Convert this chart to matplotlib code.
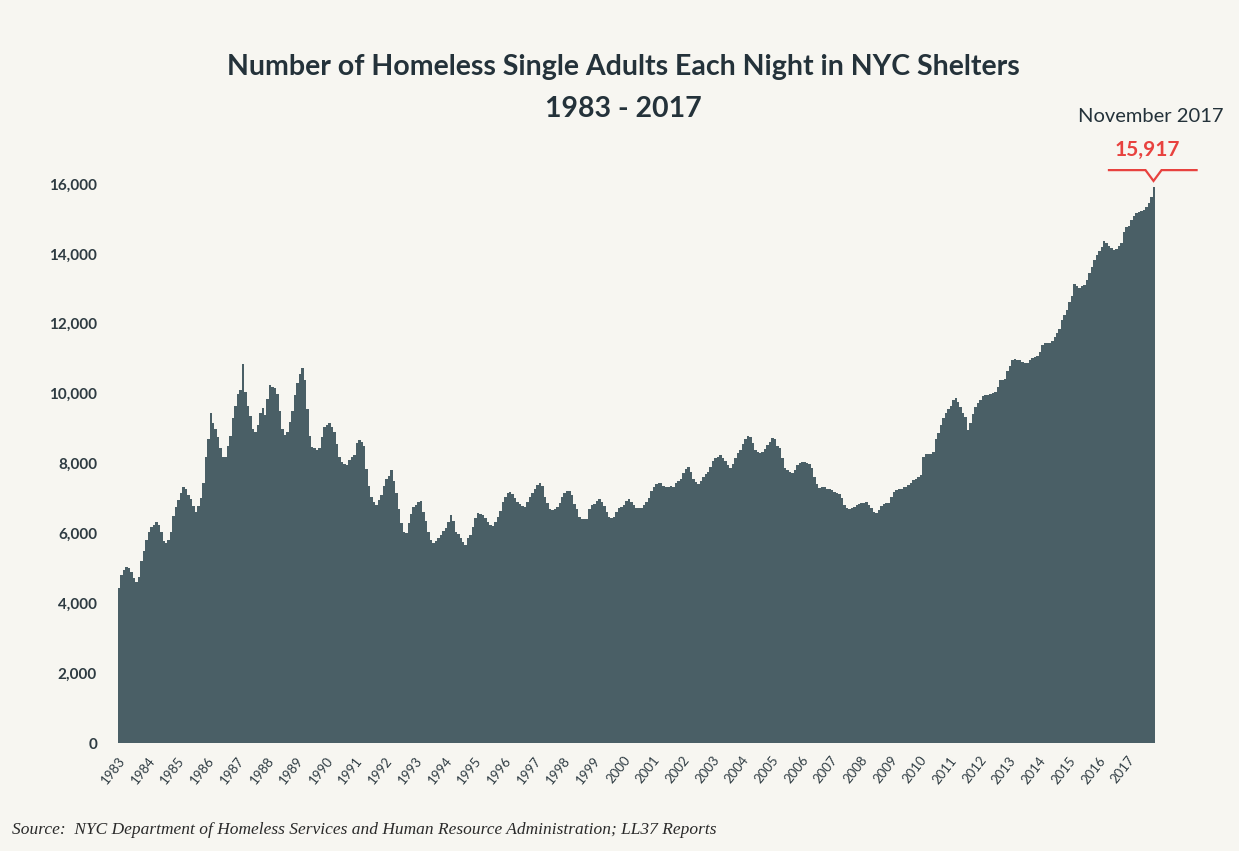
import numpy as np
import matplotlib
matplotlib.use("Agg")
from matplotlib import pyplot as plt

# monthly shelter census, Jan 1983 - Nov 2017
y1983 = [4450, 4800, 4950, 5050, 5000, 4900, 4720, 4620, 4750, 5200, 5500, 5800]
y1984 = [6050, 6180, 6250, 6320, 6250, 6050, 5780, 5720, 5800, 6050, 6500, 6750]
y1985 = [6950, 7150, 7330, 7280, 7100, 6980, 6780, 6620, 6780, 7000, 7450, 8200]
y1986 = [8700, 9450, 9150, 9000, 8750, 8450, 8180, 8200, 8500, 8800, 9300, 9650]
y1987 = [10000, 10100, 10850, 10050, 9650, 9350, 8980, 8900, 9100, 9450, 9600, 9400]
y1988 = [9850, 10250, 10200, 10150, 10000, 9500, 9000, 8820, 8900, 9200, 9500, 9950]
y1989 = [10300, 10550, 10720, 10400, 9550, 8800, 8480, 8440, 8400, 8450, 8750, 9050]
y1990 = [9100, 9170, 9050, 8900, 8550, 8200, 8030, 7980, 7960, 8100, 8200, 8240]
y1991 = [8580, 8680, 8620, 8500, 7850, 7350, 7050, 6900, 6820, 6950, 7100, 7350]
y1992 = [7550, 7650, 7800, 7500, 7150, 6700, 6300, 6050, 6020, 6300, 6550, 6750]
y1993 = [6800, 6900, 6920, 6600, 6350, 6050, 5820, 5730, 5780, 5860, 5960, 6080]
y1994 = [6150, 6320, 6520, 6350, 6050, 5980, 5880, 5740, 5680, 5880, 5950, 6180]
y1995 = [6450, 6580, 6560, 6520, 6440, 6320, 6250, 6220, 6320, 6460, 6650, 6900]
y1996 = [7050, 7150, 7190, 7120, 7000, 6900, 6840, 6780, 6750, 6900, 7050, 7150]
y1997 = [7280, 7380, 7440, 7360, 7050, 6880, 6700, 6680, 6700, 6750, 6880, 7050]
y1998 = [7150, 7210, 7200, 7100, 6850, 6700, 6480, 6420, 6410, 6420, 6700, 6800]
y1999 = [6850, 6920, 6980, 6900, 6780, 6600, 6470, 6440, 6480, 6620, 6720, 6760]
y2000 = [6810, 6940, 6980, 6900, 6800, 6740, 6720, 6730, 6800, 6900, 7020, 7200]
y2001 = [7320, 7400, 7430, 7440, 7350, 7320, 7320, 7360, 7330, 7440, 7500, 7550]
y2002 = [7720, 7830, 7900, 7750, 7560, 7460, 7410, 7500, 7620, 7700, 7760, 7900]
y2003 = [8080, 8160, 8200, 8240, 8160, 8080, 7960, 7880, 7980, 8150, 8300, 8400]
y2004 = [8550, 8700, 8790, 8760, 8600, 8400, 8320, 8300, 8330, 8420, 8530, 8620]
y2005 = [8730, 8700, 8500, 8450, 8160, 7880, 7800, 7760, 7720, 7800, 7950, 8010]
y2006 = [8030, 8050, 8010, 7980, 7880, 7600, 7420, 7310, 7320, 7330, 7280, 7260]
y2007 = [7230, 7180, 7150, 7120, 7000, 6800, 6720, 6700, 6720, 6750, 6810, 6830]
y2008 = [6860, 6880, 6900, 6820, 6720, 6610, 6580, 6680, 6780, 6850, 6870, 6880]
y2009 = [7050, 7180, 7250, 7270, 7280, 7320, 7330, 7380, 7440, 7520, 7560, 7620]
y2010 = [7680, 8180, 8260, 8270, 8280, 8330, 8700, 8880, 9100, 9300, 9440, 9560]
y2011 = [9650, 9820, 9880, 9750, 9620, 9450, 9330, 8950, 9150, 9420, 9620, 9720]
y2012 = [9820, 9930, 9960, 9970, 9990, 10010, 10060, 10180, 10380, 10400, 10430, 10650]
y2013 = [10780, 10960, 10990, 10970, 10950, 10910, 10880, 10870, 10950, 11020, 11050, 11080]
y2014 = [11200, 11380, 11440, 11450, 11460, 11500, 11620, 11730, 11850, 12100, 12250, 12400]
y2015 = [12620, 12800, 13140, 13080, 13020, 13080, 13120, 13260, 13450, 13620, 13820, 13970]
y2016 = [14080, 14200, 14370, 14300, 14220, 14170, 14110, 14150, 14220, 14320, 14620, 14770]
y2017 = [14800, 14970, 15080, 15170, 15200, 15230, 15250, 15350, 15450, 15620, 15917]

years = list(range(1983, 2018))
yticks = [0, 2000, 4000, 6000, 8000, 10000, 12000, 14000, 16000]

counts = np.array(y1983 + y1984 + y1985 + y1986 + y1987 + y1988 + y1989 + y1990
                  + y1991 + y1992 + y1993 + y1994 + y1995 + y1996 + y1997 + y1998
                  + y1999 + y2000 + y2001 + y2002 + y2003 + y2004 + y2005 + y2006
                  + y2007 + y2008 + y2009 + y2010 + y2011 + y2012 + y2013 + y2014
                  + y2015 + y2016 + y2017)
edges = 1983 + np.arange(len(counts) + 1) / 12.0

bg = "#F7F6F1"
fill = "#4A5F66"
dark = "#24323A"
red = "#E8423F"

fig = plt.figure(figsize=(12.39, 8.51), dpi=100, facecolor=bg)
ax = fig.add_axes([0.0952, 0.1269, 0.8370, 0.6569])
ax.set_facecolor(bg)

ax.stairs(counts, edges, fill=True, color=fill, baseline=0, linewidth=0)

ax.set_xlim(edges[0], edges[-1])
ax.set_ylim(0, 16000)
for s in ax.spines.values():
    s.set_visible(False)

ax.set_yticks(yticks)
ax.set_yticklabels([f"{v:,}" for v in yticks], fontfamily="Lato", fontweight="bold",
                   fontsize=11, color="#2E3B42")
ax.set_xticks(years)
ax.set_xticklabels([str(y) for y in years], rotation=52, ha="right", va="top",
                   rotation_mode="anchor", fontfamily="Lato", fontsize=9.5,
                   color="#2E3B42")
ax.tick_params(axis="both", length=0)
ax.tick_params(axis="y", pad=15)
ax.tick_params(axis="x", pad=8)

# callout for the latest value
last_x = edges[-1] - 0.05
last_v = counts[-1]
ly = last_v + 480
ax.plot([last_x - 1.5, last_x - 0.27, last_x, last_x + 0.27, last_x + 1.45],
        [ly, ly, last_v + 170, ly, ly], color=red, lw=1.6, clip_on=False,
        solid_joinstyle="miter")
ax.text(last_x - 0.2, ly + 280, f"{last_v:,}", ha="center", va="bottom",
        fontfamily="Lato", fontweight="bold", fontsize=15, color=red)
ax.text(last_x - 0.1, ly + 1300, "November 2017", ha="center", va="bottom",
        fontfamily="Lato", fontsize=14.5, color=dark)

fig.text(0.503, 0.921, "Number of Homeless Single Adults Each Night in NYC Shelters",
         ha="center", va="center", fontfamily="Lato", fontweight="bold",
         fontsize=20.5, color=dark)
fig.text(0.503, 0.872, "1983 - 2017", ha="center", va="center", fontfamily="Lato",
         fontweight="bold", fontsize=20.5, color=dark)
fig.text(0.010, 0.015, "Source:  NYC Department of Homeless Services and Human Resource Administration; LL37 Reports",
         ha="left", va="bottom", fontfamily="Liberation Serif", fontstyle="italic",
         fontsize=12.5, color="#2A2A2A")

fig.savefig("out.png", dpi=100, facecolor=bg)
